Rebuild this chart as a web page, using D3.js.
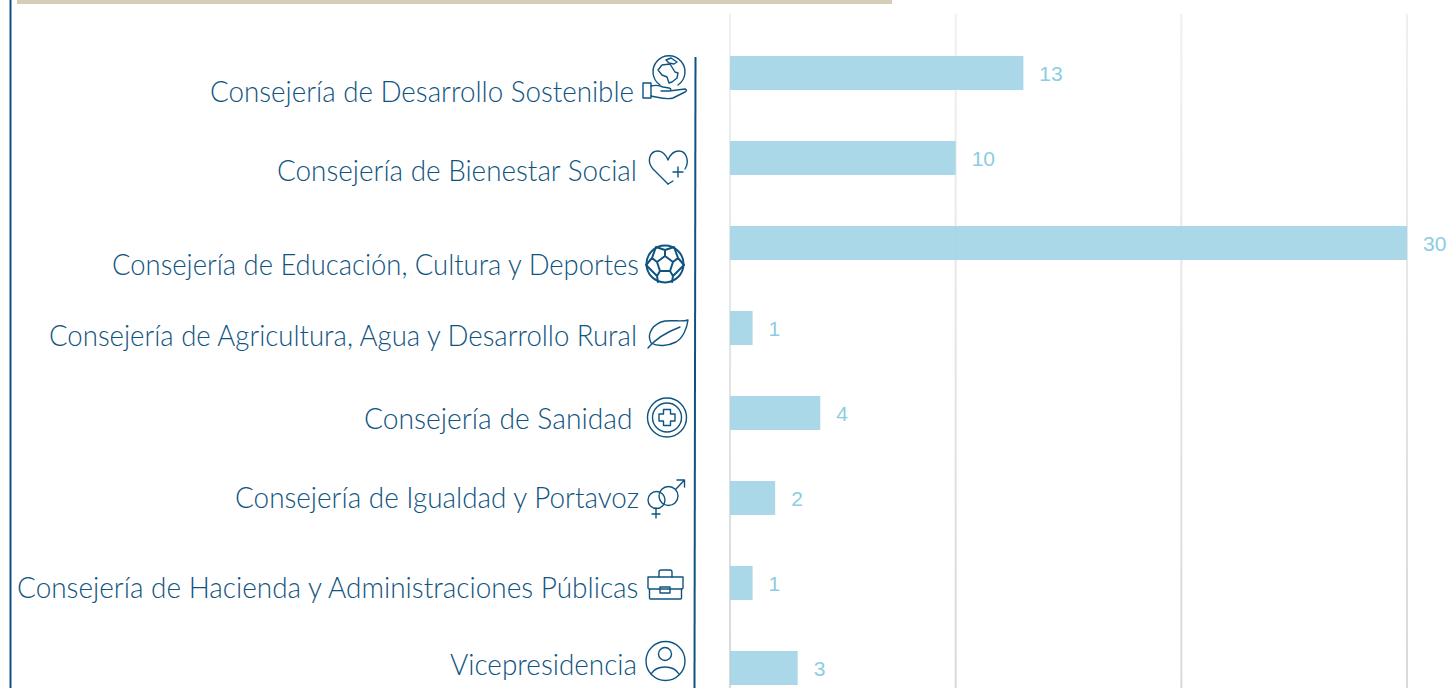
<!DOCTYPE html>
<html><head><meta charset="utf-8">
<script src="https://cdn.jsdelivr.net/npm/d3@7/dist/d3.min.js"></script>
<style>html,body{margin:0;padding:0;background:#fff;overflow:hidden}svg{display:block}</style>
</head><body><svg id="c" width="1447" height="688"></svg>
<script>
const categories=["Consejería de Desarrollo Sostenible","Consejería de Bienestar Social","Consejería de Educación, Cultura y Deportes","Consejería de Agricultura, Agua y Desarrollo Rural","Consejería de Sanidad","Consejería de Igualdad y Portavoz","Consejería de Hacienda y Administraciones Públicas","Vicepresidencia"];
const values=[13,10,30,1,4,2,1,3];
const gridTicks=[0,10,20,30];

const navy="#0f5480", barCol="#a3d5e6", valCol="#8ccde3";
// [left edge, right edge, vertical middle] of each category label
const labelLayout=[[210,634,91.5],[277,637,170.5],[112,639,264.5],[49,637,335.5],[364,632.5,418.5],[235,639,497.5],[17,638.5,587.5],[450,637,664.5]];
const svg=d3.select("#c");
const x=d3.scaleLinear().domain([0,30]).range([730,1407]);
const y=d3.scaleBand().domain(categories).range([30.5,710.5]).paddingInner(0.6).paddingOuter(0.3);

const defs=svg.append("defs");
const grad=defs.append("linearGradient").attr("id","g").attr("gradientUnits","userSpaceOnUse").attr("x1",0).attr("x2",0).attr("y1",14).attr("y2",688);
grad.append("stop").attr("offset",0).attr("stop-color","#f0f0f0");
grad.append("stop").attr("offset",1).attr("stop-color","#d9d9d9");

svg.append("rect").attr("x",17).attr("y",0).attr("width",875).attr("height",4).attr("fill","#d6cdb8");
svg.append("line").attr("x1",10.5).attr("x2",10.5).attr("y1",0).attr("y2",688).attr("stroke",navy).attr("stroke-width",2);
svg.append("line").attr("x1",695.5).attr("x2",694.5).attr("y1",57).attr("y2",688).attr("stroke",navy).attr("stroke-width",2);

svg.append("g").selectAll("rect").data(gridTicks).join("rect")
 .attr("x",d=>x(d)-1).attr("width",2).attr("y",14).attr("height",674).attr("fill","url(#g)");

svg.append("g").selectAll("rect").data(values).join("rect")
 .attr("x",x(0)).attr("y",(d,i)=>y(categories[i])).attr("width",d=>x(d)-x(0)).attr("height",y.bandwidth())
 .attr("fill",barCol).attr("fill-opacity",0.92);

svg.append("g").selectAll("text").data(values).join("text")
 .attr("x",d=>x(d)+16).attr("y",(d,i)=>y(categories[i])+y.bandwidth()/2+8)
 .attr("font-family","Liberation Sans").attr("font-size",21).attr("fill",valCol).text(d=>d);

svg.append("g").selectAll("text").data(categories).join("text")
 .attr("x",(d,i)=>labelLayout[i][0]).attr("y",(d,i)=>labelLayout[i][2]+10)
 .attr("textLength",(d,i)=>labelLayout[i][1]-labelLayout[i][0]).attr("lengthAdjust","spacingAndGlyphs")
 .attr("font-family","Lato").attr("font-weight",300).attr("font-size",29).attr("fill",navy).text(d=>d);

const icons=[
 {d:["M660 85A16 16 0 1 1 678 85","M658 70l4-5 8-1 5 8 3 1-1 5-5 4-3 1-2-6-5-2-4-5z","M666 60l5-2 6 4-3 2-5-1z","M643 83h8v15h-8z","M651 86c4-1 8-1 12 1l6 1c3 1 2 3 0 3l-8 0M669 91l16-2c2 1 2 2 0 3l-12 6c-6 2-12 0-22-2"]},
 {d:["M668 184L653 169C646 161 650 151 658 151C662 151 666 155 668 160C670 155 674 151 679 151C686 151 690 161 685 169","M668 184l5-3","M673 172h10M678 167v10"]},
 {soccer:true},
 {d:["M651 343c-5-10 3-20 14-22c9-1 18 1 23-1c-1 8-5 18-12 22c-8 4-18 5-25 1z","M648 348c8-10 19-16 32-21"]},
 {d:["M663.500 409.500h7v4.500h4.500v7h-4.500v4.500h-7v-4.500h-4.500v-7h4.500z"],circles:[[667,417.500,19.500],[667,417.500,14.500]]},
 {d:["M656 508v10M652 514h8","M676 489l8.500-9M677 480h7.500v7"],circles:[[656.500,500,8.500],[668.500,496,9.500]]},
 {d:["M648 577h35v11c0 1-1 1-2 1h-31c-1 0-2 0-2-1z","M649.500 589v9c0 1 1 1 1 1h30c1 0 1 0 1-1v-9","M659 577v-5c0-1 1-2 2-2h9c1 0 2 1 2 2v5","M660 587h10v6h-10z"]},
 {d:["M651 674c3-5 8-7 14-7s11 2 14 7"],circles:[[665.500,661,19.500],[665,654,6.500]]}
];
const ig=svg.append("g").attr("fill","none").attr("stroke",navy).attr("stroke-width",1.4).attr("stroke-linecap","round").attr("stroke-linejoin","round");
icons.forEach(ic=>{
 (ic.d||[]).forEach(p=>ig.append("path").attr("d",p));
 (ic.circles||[]).forEach(c=>ig.append("circle").attr("cx",c[0]).attr("cy",c[1]).attr("r",c[2]));
 if(ic.soccer){
  const g=ig.append("g").attr("stroke-width",2);
  g.append("circle").attr("cx",665).attr("cy",264).attr("r",18.500);
  g.append("path").attr("d","M665 256l8 6-3 9h-10l-3-9zM665 256v-6M673 262l5-4M670 271l3 5M660 271l-3 5M657 262l-5-4M656 247l9 3 9-3M674 247l4 11 6 7M656 247l-4 11-6 7M684 265l-11 11-1 6M646 265l11 11 1 6");
 }
});
</script></body></html>
